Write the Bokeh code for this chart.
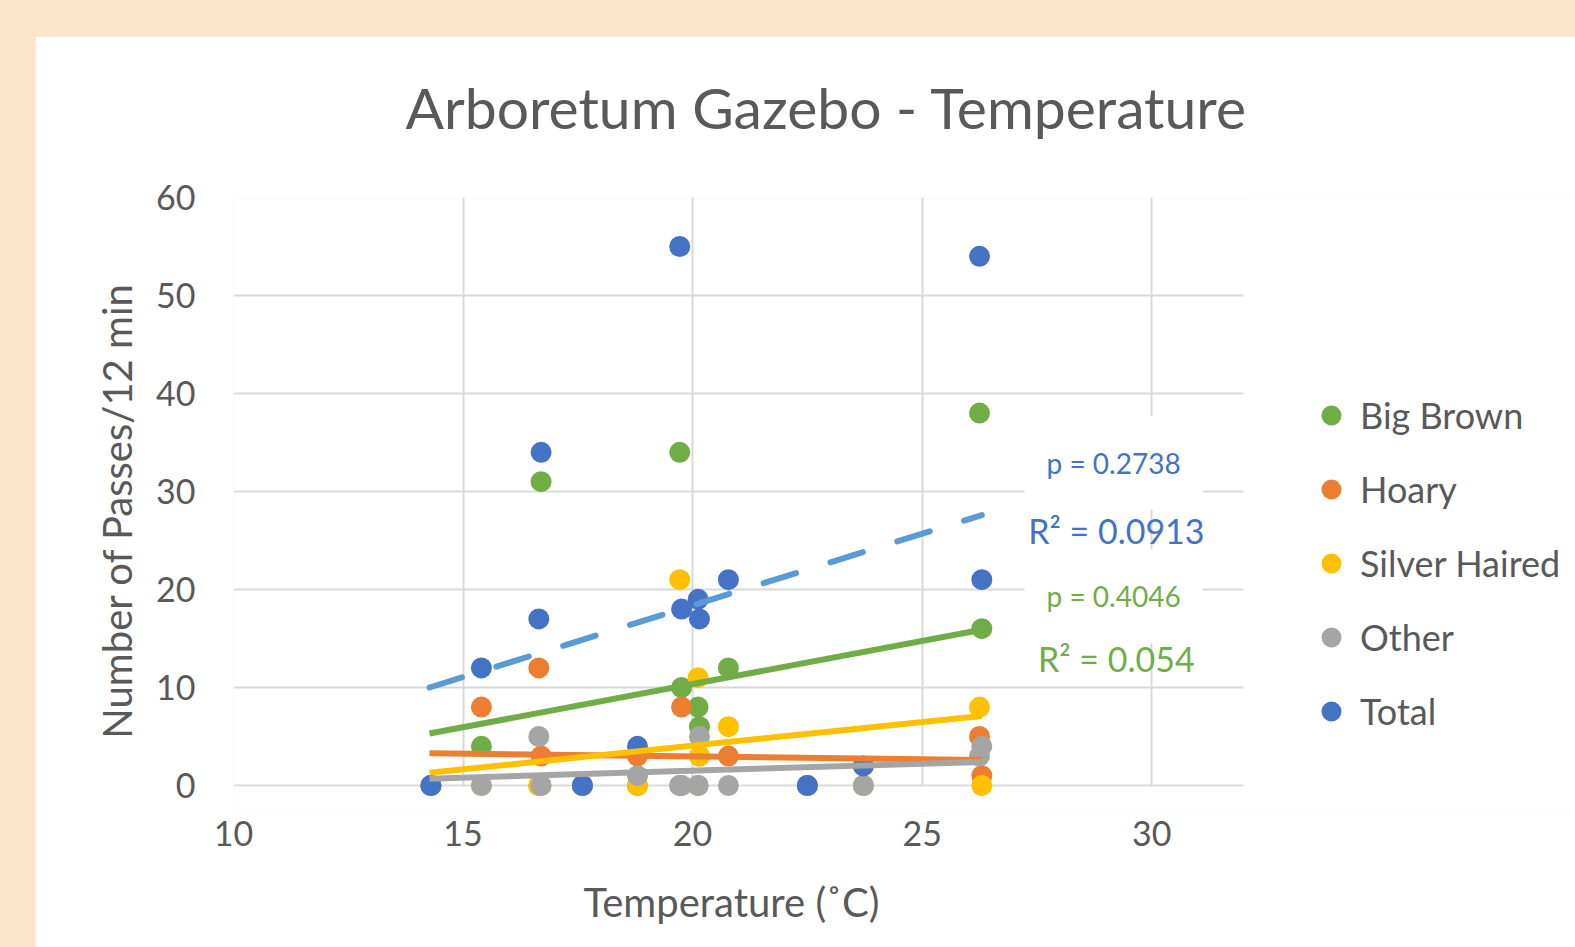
from bokeh.plotting import figure
from bokeh.models import Legend, LegendItem, Label, FixedTicker, Title, BoxAnnotation
from bokeh.layouts import column
from bokeh.embed import file_html
from bokeh.resources import INLINE

# ---------------- data ----------------
series_names = ["Big Brown", "Hoary", "Silver Haired", "Other", "Total"]
temperature = [14.3, 15.4, 16.7, 16.65, 17.6, 18.8, 19.72, 19.76, 20.12, 20.15,
               20.78, 22.5, 23.72, 26.25, 26.3]
big_brown = [0, 4, 31, 0, 0, 0, 34, 10, 8, 6, 12, 0, 0, 38, 16]
hoary = [0, 8, 3, 12, 0, 3, 0, 8, 0, 3, 3, 0, 2, 5, 1]
silver_haired = [0, 0, 0, 0, 0, 0, 21, 0, 11, 3, 6, 0, 0, 8, 0]
other = [0, 0, 0, 5, 0, 1, 0, 0, 0, 5, 0, 0, 0, 3, 4]
total = [0, 12, 34, 17, 0, 4, 55, 18, 19, 17, 21, 0, 2, 54, 21]

# linear trend lines (value at the lowest and highest temperature)
trend_x = [14.27, 26.3]
trend_start = [5.3, 3.3, 1.3, 0.7, 10.0]
trend_end = [15.9, 2.6, 7.1, 2.4, 27.6]

stat_texts_total = ["p = 0.2738", "R\u00b2 = 0.0913"]
stat_texts_bb = ["p = 0.4046", "R\u00b2 = 0.054"]

x_ticks = [10, 15, 20, 25, 30]
y_ticks = [0, 10, 20, 30, 40, 50, 60]
x_axis_min, x_axis_max = 10, 32
y_axis_min, y_axis_max = 0, 60

# ---------------- styling / geometry ----------------
FONT = "Lato"
TXT = "#595959"
colors = ["#70AD47", "#ED7D31", "#FFC000", "#A5A5A5", "#4472C4"]
trend_colors = ["#70AD47", "#ED7D31", "#FFC000", "#A5A5A5", "#5B9BD5"]

FIG_W, FIG_H = 1540, 911
LEFT, TOP, BOTTOM = 198, 161, 162
AXIS_PX_X = 1010               # pixel width of the 10..32 axis
AXIS_PX_Y = 588                # pixel height of the 0..60 axis
PAD_PX = 28                    # room below 0 so that markers at 0 are not cut
frame_w = FIG_W - LEFT
x_end = x_axis_min + (x_axis_max - x_axis_min) * frame_w / AXIS_PX_X
y_start = y_axis_min - (y_axis_max - y_axis_min) * PAD_PX / AXIS_PX_Y

p = figure(width=FIG_W, height=FIG_H, x_range=(x_axis_min, x_end),
           y_range=(y_start, y_axis_max),
           output_backend="svg", toolbar_location=None,
           min_border_left=LEFT, min_border_right=0,
           min_border_top=TOP, min_border_bottom=BOTTOM - PAD_PX,
           border_fill_color="white", background_fill_color="white",
           outline_line_color=None)
p.margin = (36, 0, 0, 35)

# spacer between frame and title
p.add_layout(Title(text=" ", text_font_size="1px", standoff=53), "above")

p.title.text = "Arboretum Gazebo - Temperature"
p.title.text_font = FONT
p.title.text_font_size = "57px"
p.title.text_font_style = "normal"
p.title.text_color = TXT
p.title.align = "left"
p.title.offset = 172
p.title.standoff = 2

p.xaxis.ticker = FixedTicker(ticks=x_ticks)
p.yaxis.ticker = FixedTicker(ticks=y_ticks)
for ax in (p.xaxis[0], p.yaxis[0]):
    ax.axis_line_color = None
    ax.major_tick_line_color = None
    ax.minor_tick_line_color = None
    ax.major_tick_out = 0
    ax.major_tick_in = 0
    ax.major_label_text_font = FONT
    ax.major_label_text_font_size = "34px"
    ax.major_label_text_color = TXT
    ax.axis_label_text_font = FONT
    ax.axis_label_text_font_size = "40px"
    ax.axis_label_text_font_style = "normal"
    ax.axis_label_text_color = TXT
p.yaxis.axis_label = "Number  of Passes/12 min"
p.xaxis.major_label_standoff = 35 - PAD_PX
p.yaxis.major_label_standoff = 38
p.yaxis.axis_label_standoff = 12

# x-axis title, centred under the axis (10..32) rather than the wider frame
p.add_layout(Title(text=" ", text_font_size="1px", standoff=24), "below")
p.add_layout(Title(text="Temperature  (\u02daC)", text_font=FONT, text_font_size="40px",
                   text_font_style="normal", text_color=TXT, align="left",
                   offset=350, standoff=0), "below")

p.xgrid.ticker = FixedTicker(ticks=x_ticks)
p.ygrid.ticker = FixedTicker(ticks=y_ticks)
p.grid.grid_line_color = "#D9D9D9"
p.grid.grid_line_width = 2

# hide the grid below the 0 line (under the markers)
p.add_layout(BoxAnnotation(top=y_axis_min - 0.12, fill_color="white", fill_alpha=1,
                           line_color=None, level="underlay"))

series = [big_brown, hoary, silver_haired, other, total]
items = []
for name, vals, c in zip(series_names, series, colors):
    r = p.scatter(temperature, vals, size=21, fill_color=c, line_color=c, line_width=0)
    items.append(LegendItem(label=name, renderers=[r]))

for i, c in enumerate(trend_colors):
    ys = [trend_start[i], trend_end[i]]
    if series_names[i] == "Total":
        p.line(trend_x, ys, line_color=c, line_width=6, line_dash="34 36", line_cap="round")
    else:
        p.line(trend_x, ys, line_color=c, line_width=6)

# blank the plot area beyond the axis maximum (legend area of the chart)
p.add_layout(BoxAnnotation(left=x_axis_max, fill_color="white", fill_alpha=1,
                           line_color=None))

# regression statistic labels
lab_kw = dict(text_font=FONT, text_align="center", text_baseline="middle")
p.add_layout(Label(x=29.17, y=32.9, text=stat_texts_total[0], text_font_size="28px",
                   text_color="#4472C4", background_fill_color="white",
                   padding=(22, 30), **lab_kw))
p.add_layout(Label(x=29.23, y=26.0, text=stat_texts_total[1], text_font_size="34px",
                   text_color="#4472C4", **lab_kw))
p.add_layout(Label(x=29.17, y=19.3, text=stat_texts_bb[0], text_font_size="28px",
                   text_color="#70AD47", background_fill_color="white",
                   padding=(22, 30), **lab_kw))
p.add_layout(Label(x=29.23, y=12.96, text=stat_texts_bb[1], text_font_size="34px",
                   text_color="#70AD47", **lab_kw))

legend = Legend(items=items, location=(1073, 49 + PAD_PX), orientation="vertical",
                glyph_width=50, glyph_height=50, label_height=50,
                spacing=24, padding=0, margin=0, label_standoff=4,
                label_text_font=FONT, label_text_font_size="36px",
                label_text_color=TXT, border_line_color=None,
                background_fill_alpha=0)
p.add_layout(legend, "center")

page = column(p, width=1575, height=947, styles={"background-color": "#FCE4CA"})

open("out.html", "w").write(file_html(page, INLINE))
